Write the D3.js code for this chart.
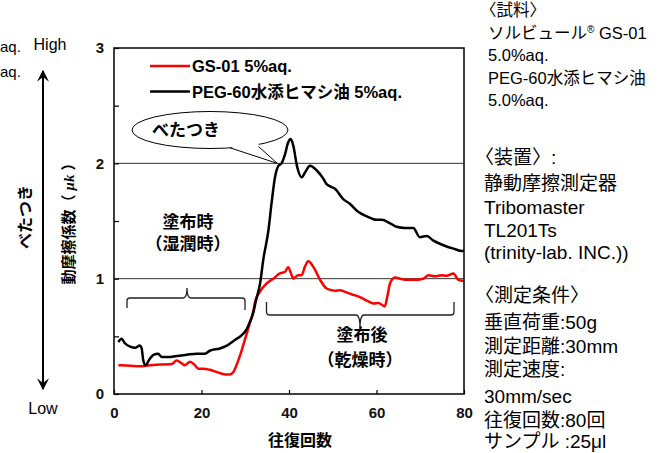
<!DOCTYPE html>
<html><head><meta charset="utf-8">
<script src="https://cdn.jsdelivr.net/npm/d3@7"></script>
<style>
html,body{margin:0;padding:0;background:#fff;}
svg{display:block;}
text{font-family:"Liberation Sans","Noto Sans CJK JP",sans-serif;}
</style></head>
<body>
<svg id="c" width="665" height="453"></svg>
<script>
// ---- data ----
const cycles = [0, 20, 40, 60, 80];
const yTicks = [0, 0.5, 1, 1.5, 2, 2.5, 3];
const gridValues = [1, 2];
const seriesNames = ["GS-01 5%aq.", "PEG-60水添ヒマシ油 5%aq."];
const redX = [1,3.7,5.9,8.2,10.5,13.2,14.3,15.5,16.2,17.4,18.5,19.3,20.4,21.9,23.5,25.4,26.5,27.3,27.9,29.2,30.3,31.1,31.8,32.2,33.4,34.9,36.4,37.9,39.1,39.8,40.6,41.0,42.1,42.9,43.6,44.4,45.6,47.1,48.6,50.5,51.7,52.8,54.3,56.2,57.8,59.3,60.4,61.9,62.5,63.1,64.2,65.4,66.5,68.4,70.7,71.9,73.4,74.9,76.0,77.6,78.7,80];
const redY = [0.25,0.245,0.24,0.25,0.255,0.26,0.29,0.265,0.25,0.28,0.25,0.22,0.22,0.21,0.19,0.17,0.17,0.19,0.24,0.38,0.52,0.62,0.71,0.79,0.89,0.96,1.0,1.045,1.06,1.10,1.03,1.0,1.03,1.03,1.10,1.15,1.10,0.99,0.915,0.895,0.90,0.885,0.865,0.84,0.81,0.785,0.79,0.76,0.85,0.96,1.01,1.0,0.99,0.99,1.0,1.03,1.02,1.03,1.025,1.045,0.99,0.98];
const blackX = [1,1.7,2.5,3.7,4.8,5.9,6.3,6.7,7.2,8.1,9.0,10.1,10.9,12.4,14.3,16.6,18.9,20.8,21.9,24.2,25.8,27.7,29.2,30.3,31.0,31.8,32.5,33.4,34.1,35.3,36.0,36.8,37.6,38.3,39.1,39.8,40.4,41.0,41.8,42.9,43.8,44.8,46.3,47.8,48.6,49.4,50.5,52.4,53.9,55.8,57.8,60.0,61.2,63.1,64.6,66.5,68.4,69.9,71.5,73.0,75.3,77.6,79.5,80];
const blackY = [0.45,0.48,0.44,0.41,0.40,0.42,0.40,0.29,0.25,0.30,0.34,0.35,0.32,0.32,0.33,0.34,0.35,0.35,0.375,0.395,0.42,0.47,0.51,0.56,0.62,0.70,0.82,0.96,1.16,1.42,1.65,1.88,1.98,2.0,2.08,2.18,2.21,2.15,1.98,1.88,1.93,1.98,1.94,1.87,1.82,1.80,1.78,1.69,1.65,1.58,1.54,1.51,1.51,1.48,1.45,1.44,1.44,1.36,1.37,1.33,1.29,1.26,1.24,1.24];
const sampleLines = ["〈試料〉", "ソルビュール|® GS-01", "5.0%aq.", "PEG-60水添ヒマシ油", "5.0%aq."];
const conditionLines = ["〈装置〉:", "静動摩擦測定器", "Tribomaster", "TL201Ts", "(trinity-lab. INC.))", "〈測定条件〉", "垂直荷重:50g", "測定距離:30mm", "測定速度:", "30mm/sec", "往復回数:80回", "サンプル :25μl"];
const leftFragments = ["aq.", "aq."];

// ---- layout ----
const svg = d3.select("#c");
const L = 114, R = 464, T = 48, B = 394;
const x = d3.scaleLinear().domain([0, 80]).range([L, R]);
const y = d3.scaleLinear().domain([0, 3]).range([B, T]);
const JP = "Noto Sans CJK JP, sans-serif";

// grid lines
svg.append("g").selectAll("line").data(gridValues).join("line")
  .attr("x1", L).attr("x2", R).attr("y1", d => y(d)).attr("y2", d => y(d))
  .attr("stroke", "#333").attr("stroke-width", 1);

// axes
const yAxis = d3.axisLeft(y).tickValues(yTicks).tickSize(-5).tickPadding(10)
  .tickFormat(d => Number.isInteger(d) ? d : "");
const gy = svg.append("g").attr("transform", `translate(${L},0)`).call(yAxis);
const xAxis = d3.axisBottom(x).tickValues(cycles).tickSize(-4).tickPadding(13);
const gx = svg.append("g").attr("transform", `translate(0,${B})`).call(xAxis);
[gx, gy].forEach(g => {
  g.select(".domain").remove();
  g.selectAll(".tick line").attr("stroke", "#000").attr("stroke-width", 1.2);
  g.selectAll(".tick text").attr("font-size", 15).attr("font-weight", "bold").attr("fill", "#111")
    .attr("font-family", "Liberation Sans, sans-serif");
});

// lines
const line = d3.line().x(d => x(d[0])).y(d => y(d[1])).curve(d3.curveMonotoneX);
const redData = redX.map((v, i) => [v, redY[i]]);
const blackData = blackX.map((v, i) => [v, blackY[i]]);
svg.append("path").attr("d", line(redData)).attr("fill", "none").attr("stroke", "#ff0000").attr("stroke-width", 2.5).attr("stroke-linejoin", "round");
svg.append("path").attr("d", line(blackData)).attr("fill", "none").attr("stroke", "#000").attr("stroke-width", 2.5).attr("stroke-linejoin", "round");

// frame
svg.append("rect").attr("x", L).attr("y", T).attr("width", R - L).attr("height", B - T)
  .attr("fill", "none").attr("stroke", "#000").attr("stroke-width", 1.5);

// legend
const legColors = ["#ff0000", "#000"];
seriesNames.forEach((n, i) => {
  const ly = 66 + i * 25.5;
  svg.append("line").attr("x1", 150).attr("x2", 190).attr("y1", ly).attr("y2", ly)
    .attr("stroke", legColors[i]).attr("stroke-width", 2.5);
  svg.append("text").attr("x", 192).attr("y", ly + 6).attr("font-size", 16.5).attr("font-weight", "bold")
    .attr("font-family", JP).text(n);
});

// callout
const cx = 210, cy = 130;
svg.append("ellipse").attr("cx", cx).attr("cy", cy).attr("rx", 78).attr("ry", 18.5)
  .attr("fill", "#fff").attr("stroke", "#000").attr("stroke-width", 1);
const tipX = x(37.3), tipY = y(2);
svg.append("path").attr("d", `M229,146.5 L${tipX},${tipY} L259,145.5 L258,140 L230,141 Z`).attr("fill", "#fff");
svg.append("path").attr("d", `M230,147.8 L${tipX},${tipY} L258.5,146.5`).attr("fill", "none").attr("stroke", "#000").attr("stroke-width", 1);
svg.append("text").attr("x", 186).attr("y", 136).attr("text-anchor", "middle").attr("font-size", 17).attr("font-weight", "bold").text("べたつき");

// brackets
const br = d3.path();
br.moveTo(127, 308); br.lineTo(127, 301); br.quadraticCurveTo(127, 298, 130, 298);
br.lineTo(183, 298); br.quadraticCurveTo(187, 298, 187, 288); br.quadraticCurveTo(187, 298, 191, 298);
br.lineTo(242, 298); br.quadraticCurveTo(245, 298, 245, 301); br.lineTo(245, 310);
svg.append("path").attr("d", br.toString()).attr("fill", "none").attr("stroke", "#222").attr("stroke-width", 1.3);
const br2 = d3.path();
br2.moveTo(266.5, 302); br2.lineTo(266.5, 312); br2.quadraticCurveTo(266.5, 315, 270, 315);
br2.lineTo(356, 315); br2.quadraticCurveTo(360, 315, 360, 328); br2.quadraticCurveTo(360, 315, 364, 315);
br2.lineTo(451, 315); br2.quadraticCurveTo(454, 315, 454, 312); br2.lineTo(454, 302);
svg.append("path").attr("d", br2.toString()).attr("fill", "none").attr("stroke", "#222").attr("stroke-width", 1.3);

const ann = [["塗布時", 188, 228], ["（湿潤時）", 188, 250], ["塗布後", 362, 341], ["（乾燥時）", 360, 366]];
ann.forEach(a => svg.append("text").attr("x", a[1]).attr("y", a[2]).attr("text-anchor", "middle")
  .attr("font-size", 17).attr("font-weight", "bold").text(a[0]));

// axis titles
svg.append("text").attr("x", 300).attr("y", 446).attr("text-anchor", "middle").attr("font-size", 16).attr("font-weight", "bold").text("往復回数");
const yt = svg.append("text").attr("transform", "translate(74,220) rotate(-90)").attr("text-anchor", "middle")
  .attr("font-size", 15).attr("font-weight", "bold");
yt.append("tspan").text("動摩擦係数（ ");
yt.append("tspan").attr("font-style", "italic").attr("font-family", "Liberation Serif, serif").text("μk");
yt.append("tspan").text(" ）");

// left annotation
svg.append("text").attr("x", 50).attr("y", 50).attr("text-anchor", "middle").attr("font-size", 16).text("High");
svg.append("text").attr("x", 43).attr("y", 414).attr("text-anchor", "middle").attr("font-size", 16).text("Low");
svg.append("defs").append("marker").attr("id", "ah").attr("viewBox", "0 0 10 10").attr("refX", 9).attr("refY", 5)
  .attr("markerWidth", 6).attr("markerHeight", 6).attr("orient", "auto-start-reverse")
  .append("path").attr("d", "M0,0 L10,5 L0,10 L4,5 Z").attr("fill", "#000");
svg.append("line").attr("x1", 43).attr("x2", 43).attr("y1", 71).attr("y2", 389)
  .attr("stroke", "#000").attr("stroke-width", 2).attr("marker-start", "url(#ah)").attr("marker-end", "url(#ah)");
svg.append("text").attr("transform", "translate(31,217) rotate(-90)").attr("text-anchor", "middle")
  .attr("font-size", 16).attr("font-weight", "bold").text("べたつき");

// fragments of a neighbouring column visible at the left edge
[47, 72].forEach((v, i) => svg.append("text").attr("x", 0).attr("y", v + 5)
  .attr("font-size", 15).attr("font-family", JP).text(leftFragments[i]));

// right text blocks
const sampleY = [10, 33, 55, 78, 100];
sampleLines.forEach((s, i) => {
  const t = svg.append("text").attr("x", 488).attr("y", sampleY[i] + 6).attr("font-size", 16.5).attr("font-family", JP);
  if (s.startsWith("〈")) t.attr("dx", -8);
  if (s.includes("|")) {
    const p = s.split("|");
    t.append("tspan").text(p[0]);
    t.append("tspan").attr("font-size", 10).attr("dy", -6).text(p[1].slice(0, 1));
    t.append("tspan").attr("dy", 6).text(p[1].slice(1));
  } else t.text(s);
});
const condY = [157, 183, 207, 230, 252, 295, 322, 346, 369, 396, 420, 441];
conditionLines.forEach((s, i) => {
  const t = svg.append("text").attr("x", 484).attr("y", condY[i] + 7).attr("font-size", 19).attr("font-family", JP).text(s);
  if (s.startsWith("〈")) t.attr("dx", -9);
});
</script>
</body></html>
